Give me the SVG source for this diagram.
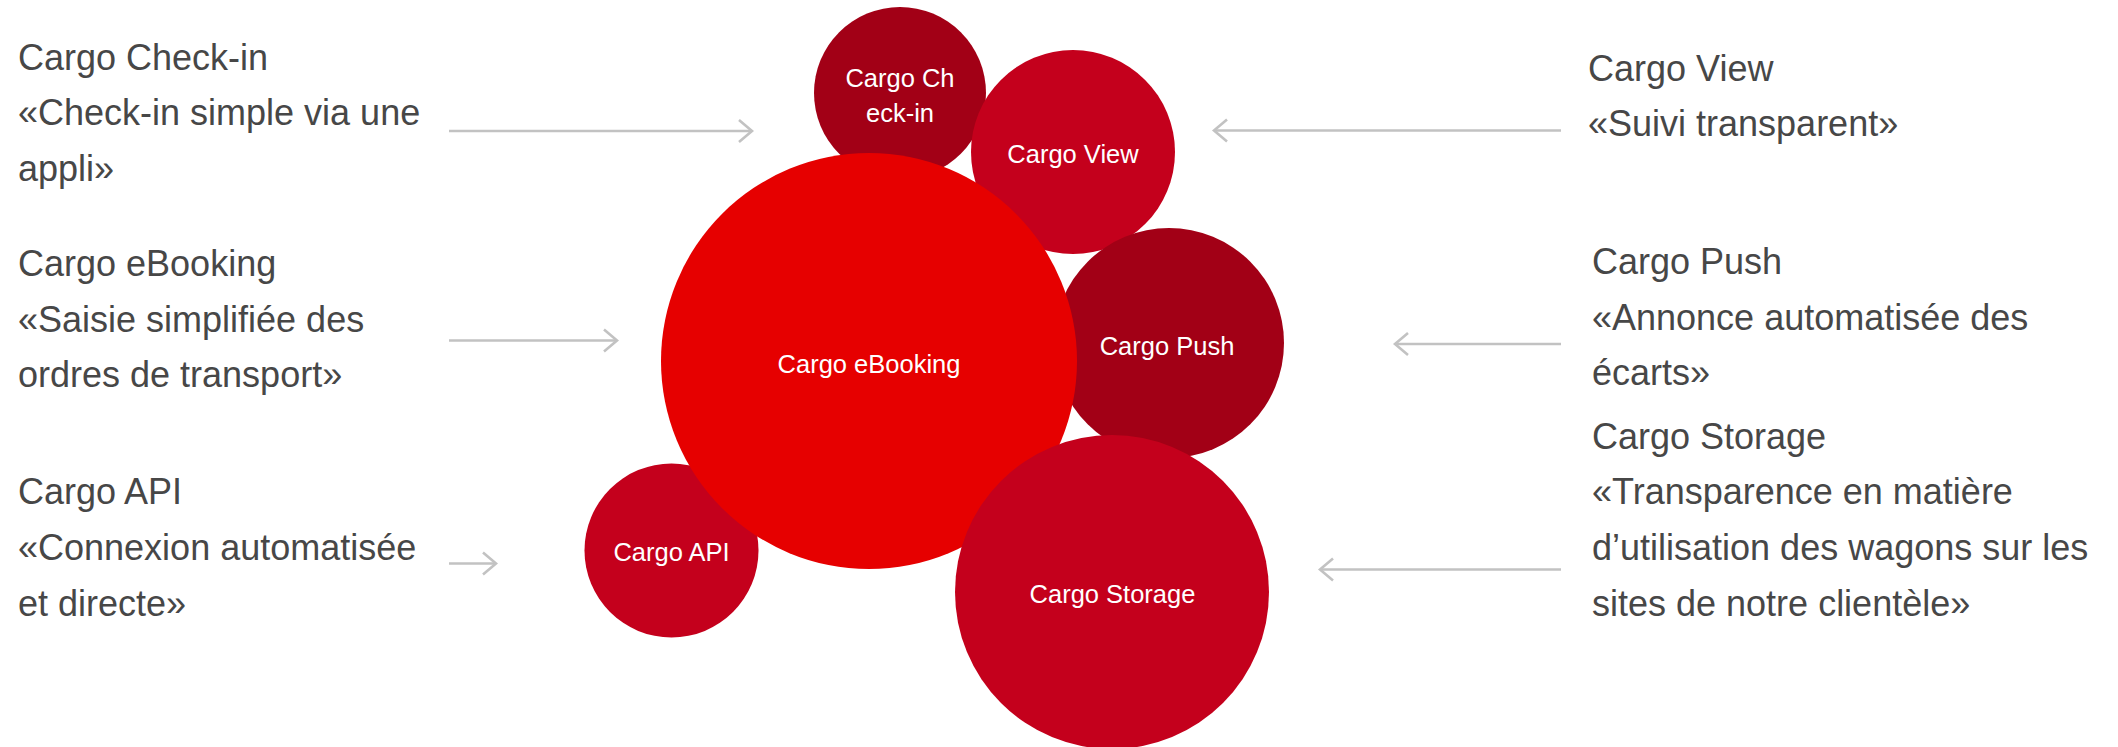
<svg xmlns="http://www.w3.org/2000/svg" width="2118" height="747" viewBox="0 0 2118 747">
  <defs>
    <style>
      .side { font-family: "Liberation Sans", Arial, sans-serif; font-size: 36px; fill: #474747; }
      .lbl { font-family: "Liberation Sans", Arial, sans-serif; font-size: 25.5px; fill: #ffffff; text-anchor: middle; }
      .conn { stroke: #c2c2c2; stroke-width: 2.6; fill: none; }
      .dark { fill: #a20016; }
      .mid { fill: #c4001c; }
      .bright { fill: #e60000; }
    </style>
    <marker id="chev" viewBox="0 0 20 26" markerUnits="userSpaceOnUse" markerWidth="20" markerHeight="26" refX="15" refY="13" orient="auto">
      <path d="M2,2 L15,13 L2,24" fill="none" stroke="#c2c2c2" stroke-width="2.6"/>
    </marker>
  </defs>
  <rect width="2118" height="747" fill="#ffffff"/>

  <g id="connectors">
    <line class="conn" x1="449" y1="131" x2="752" y2="131" marker-end="url(#chev)"/>
    <line class="conn" x1="449" y1="340.5" x2="617" y2="340.5" marker-end="url(#chev)"/>
    <line class="conn" x1="449" y1="563.5" x2="496" y2="563.5" marker-end="url(#chev)"/>
    <line class="conn" x1="1561" y1="130.5" x2="1214" y2="130.5" marker-end="url(#chev)"/>
    <line class="conn" x1="1561" y1="344" x2="1395" y2="344" marker-end="url(#chev)"/>
    <line class="conn" x1="1561" y1="569.5" x2="1320" y2="569.5" marker-end="url(#chev)"/>
  </g>

  <g id="node-checkin">
    <circle class="dark" cx="900" cy="93" r="86"/>
    <text class="lbl" x="900" y="87">Cargo Ch</text>
    <text class="lbl" x="900" y="122">eck-in</text>
  </g>
  <g id="node-view">
    <circle class="mid" cx="1073" cy="152" r="102"/>
    <text class="lbl" x="1073" y="163">Cargo View</text>
  </g>
  <g id="node-push">
    <circle class="dark" cx="1169" cy="343" r="115"/>
    <text class="lbl" x="1167" y="355">Cargo Push</text>
  </g>
  <g id="node-api">
    <circle class="mid" cx="671.5" cy="550.5" r="87"/>
    <text class="lbl" x="671.5" y="561">Cargo API</text>
  </g>
  <g id="node-ebooking">
    <circle class="bright" cx="869" cy="361" r="208"/>
    <text class="lbl" x="869" y="372.5">Cargo eBooking</text>
  </g>
  <g id="node-storage">
    <circle class="mid" cx="1112" cy="592" r="157"/>
    <text class="lbl" x="1112.5" y="603">Cargo Storage</text>
  </g>

  <g id="desc-checkin">
    <text class="side" x="18" y="69.5">Cargo Check-in</text>
    <text class="side" x="18" y="125">«Check-in simple via une</text>
    <text class="side" x="18" y="180.5">appli»</text>
  </g>
  <g id="desc-ebooking">
    <text class="side" x="18" y="276">Cargo eBooking</text>
    <text class="side" x="18" y="331.5">«Saisie simplifiée des</text>
    <text class="side" x="18" y="387">ordres de transport»</text>
  </g>
  <g id="desc-api">
    <text class="side" x="18" y="504">Cargo API</text>
    <text class="side" x="18" y="560">«Connexion automatisée</text>
    <text class="side" x="18" y="615.5">et directe»</text>
  </g>
  <g id="desc-view">
    <text class="side" x="1588" y="81">Cargo View</text>
    <text class="side" x="1588" y="136">«Suivi transparent»</text>
  </g>
  <g id="desc-push">
    <text class="side" x="1592" y="274">Cargo Push</text>
    <text class="side" x="1592" y="330">«Annonce automatisée des</text>
    <text class="side" x="1592" y="385">écarts»</text>
  </g>
  <g id="desc-storage">
    <text class="side" x="1592" y="448.5">Cargo Storage</text>
    <text class="side" x="1592" y="504">«Transparence en matière</text>
    <text class="side" x="1592" y="560">d’utilisation des wagons sur les</text>
    <text class="side" x="1592" y="615.5">sites de notre clientèle»</text>
  </g>
</svg>
